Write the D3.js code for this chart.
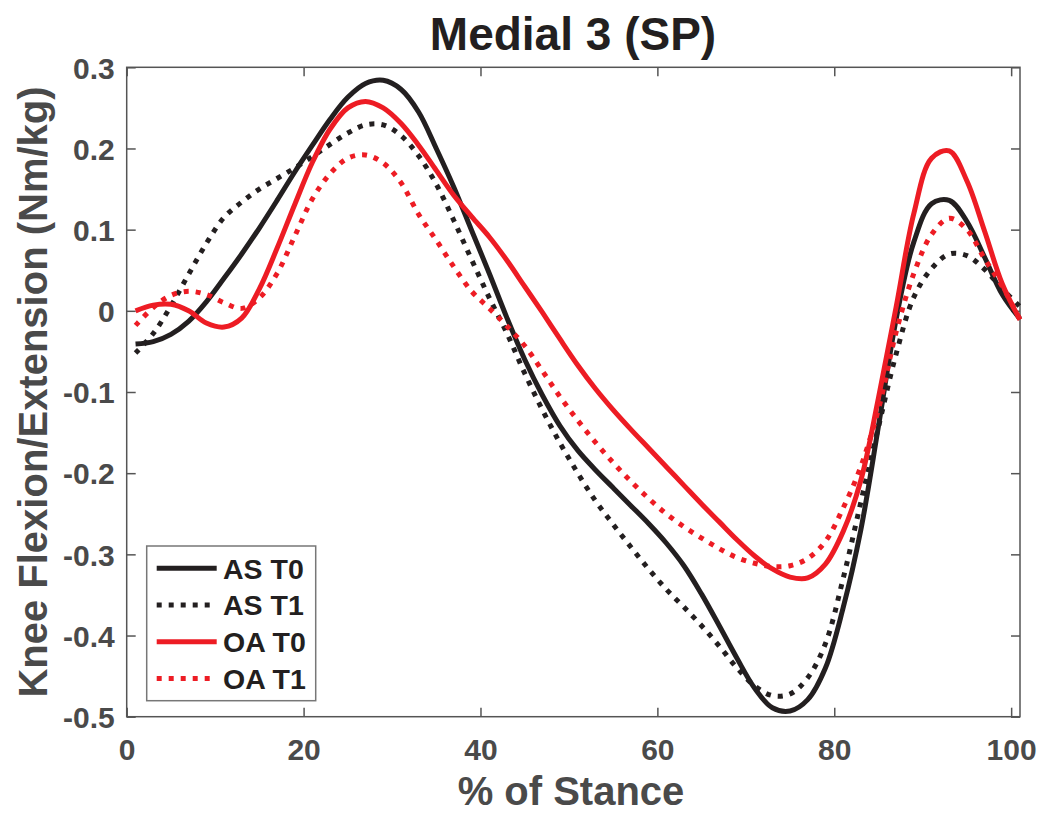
<!DOCTYPE html>
<html>
<head>
<meta charset="utf-8">
<script src="https://cdn.jsdelivr.net/npm/d3@7"></script>
<style>
html,body{margin:0;padding:0;background:#fff;}
svg{display:block;font-family:"Liberation Sans",Arial,Helvetica,sans-serif;font-weight:bold;}
</style>
</head>
<body>
<svg id="chart" width="1042" height="815"></svg>
<script>
// ---- data ----
const stance = d3.range(1, 102, 2); // % of stance sample points
const asT0 = [-0.041,-0.038,-0.029,-0.013,0.011,0.040,0.070,0.102,0.136,0.171,0.204,0.236,0.263,0.280,0.284,0.273,0.245,0.200,0.152,0.099,0.046,-0.009,-0.060,-0.104,-0.142,-0.172,-0.196,-0.218,-0.240,-0.262,-0.286,-0.314,-0.349,-0.388,-0.428,-0.465,-0.489,-0.493,-0.479,-0.440,-0.366,-0.270,-0.142,-0.010,0.085,0.132,0.136,0.110,0.066,0.020,-0.010];
const asT1 = [-0.052,-0.028,0.006,0.045,0.083,0.115,0.134,0.150,0.163,0.176,0.190,0.205,0.219,0.229,0.229,0.216,0.191,0.156,0.111,0.063,0.016,-0.028,-0.077,-0.122,-0.163,-0.200,-0.234,-0.263,-0.291,-0.318,-0.343,-0.365,-0.388,-0.413,-0.440,-0.462,-0.474,-0.472,-0.452,-0.410,-0.330,-0.236,-0.143,-0.053,0.017,0.052,0.070,0.068,0.051,0.027,0.005];
const oaT0 = [0.000,0.007,0.008,0.000,-0.015,-0.020,-0.009,0.027,0.077,0.131,0.183,0.224,0.250,0.258,0.250,0.231,0.204,0.173,0.142,0.116,0.091,0.062,0.030,-0.002,-0.035,-0.067,-0.096,-0.122,-0.146,-0.169,-0.192,-0.215,-0.238,-0.260,-0.282,-0.302,-0.318,-0.328,-0.329,-0.312,-0.272,-0.209,-0.107,0.005,0.120,0.188,0.197,0.160,0.098,0.033,-0.011];
const oaT1 = [-0.018,0.004,0.019,0.024,0.020,0.010,0.003,0.016,0.046,0.092,0.138,0.169,0.188,0.192,0.182,0.158,0.119,0.087,0.054,0.024,0.003,-0.019,-0.043,-0.074,-0.106,-0.135,-0.162,-0.187,-0.210,-0.231,-0.250,-0.266,-0.280,-0.293,-0.304,-0.311,-0.315,-0.314,-0.305,-0.284,-0.243,-0.192,-0.121,-0.026,0.046,0.094,0.114,0.100,0.064,0.030,-0.011];
const seriesNames = ["AS T0","AS T1","OA T0","OA T1"];
const xTicks = [0,20,40,60,80,100];
const yTicks = [0.3,0.2,0.1,0,-0.1,-0.2,-0.3,-0.4,-0.5];
const yTickLabels = ["0.3","0.2","0.1","0","-0.1","-0.2","-0.3","-0.4","-0.5"];

// ---- styling ----
const colors = {"AS T0":"#231f20","AS T1":"#231f20","OA T0":"#ed1c24","OA T1":"#ed1c24"};
const dashes = {"AS T0":null,"AS T1":"5,7","OA T0":null,"OA T1":"5,7"};
const series = [asT0, asT1, oaT0, oaT1].map((v,i)=>({name:seriesNames[i], values:v.map((y,j)=>({x:stance[j], y}))}));

const L = 126.7, R = 1020, T = 67.3, B = 716.7;
const svg = d3.select("#chart");
svg.append("rect").attr("width",1042).attr("height",815).attr("fill","#fff");

const x = d3.scaleLinear().domain([0,101]).range([L,R]);
const y = d3.scaleLinear().domain([-0.5,0.3]).range([B,T]);

const axisColor = "#555";
const labelColor = "#4a4a4a";
const tickLen = 9;

// box
svg.append("rect").attr("x",L).attr("y",T).attr("width",R-L).attr("height",B-T)
  .attr("fill","none").attr("stroke",axisColor).attr("stroke-width",1.5);

// axes via d3 axis
const xAxisB = svg.append("g").attr("transform",`translate(0,${B})`)
  .call(d3.axisBottom(x).tickValues(xTicks).tickSizeInner(-tickLen).tickSizeOuter(0).tickPadding(0).tickFormat(d3.format("d")));
const xAxisT = svg.append("g").attr("transform",`translate(0,${T})`)
  .call(d3.axisTop(x).tickValues(xTicks).tickSizeInner(-tickLen).tickSizeOuter(0).tickFormat(""));
const yAxisL = svg.append("g").attr("transform",`translate(${L},0)`)
  .call(d3.axisLeft(y).tickValues(yTicks).tickSizeInner(-tickLen).tickSizeOuter(0).tickFormat((d,i)=>yTickLabels[i]));
const yAxisR = svg.append("g").attr("transform",`translate(${R},0)`)
  .call(d3.axisRight(y).tickValues(yTicks).tickSizeInner(-tickLen).tickSizeOuter(0).tickFormat(""));

[xAxisB,xAxisT,yAxisL,yAxisR].forEach(g=>{
  g.select(".domain").remove();
  g.selectAll(".tick line").attr("stroke",axisColor).attr("stroke-width",1.5);
});
xAxisB.selectAll(".tick text").attr("y",0).attr("dy",0).attr("transform","translate(0,43)")
  .attr("fill",labelColor).style("font-size","30px").style("font-family","'Liberation Sans',Arial,sans-serif").style("font-weight","bold");
yAxisL.selectAll(".tick text").attr("x",-12).attr("dy","0.36em")
  .attr("fill",labelColor).style("font-size","30px").style("font-family","'Liberation Sans',Arial,sans-serif").style("font-weight","bold");

// lines
const line = d3.line().x(d=>x(d.x)).y(d=>y(d.y)).curve(d3.curveCatmullRom.alpha(0.5));
const plot = svg.append("g");
series.forEach(s=>{
  plot.append("path").datum(s.values)
    .attr("d",line).attr("fill","none")
    .attr("stroke",colors[s.name]).attr("stroke-width",5)
    .attr("stroke-dasharray",dashes[s.name])
    .attr("stroke-linejoin","round");
});

// title and axis labels
svg.append("text").attr("x",573).attr("y",50).attr("text-anchor","middle")
  .attr("fill","#231f20").style("font-size","46px").text("Medial 3 (SP)");
svg.append("text").attr("x",571).attr("y",805).attr("text-anchor","middle")
  .attr("fill",labelColor).style("font-size","40px").text("% of Stance");
svg.append("text").attr("transform",`translate(47,392) rotate(-90)`).attr("text-anchor","middle")
  .attr("fill",labelColor).style("font-size","40px").text("Knee Flexion/Extension (Nm/kg)");

// legend
const lg = svg.append("g");
lg.append("rect").attr("x",146.7).attr("y",546).attr("width",169).attr("height",154.7)
  .attr("fill","#fff").attr("stroke","#777").attr("stroke-width",1.5);
seriesNames.forEach((n,i)=>{
  const yy = 568.3 + i*36.7;
  lg.append("line").attr("x1",156.7).attr("x2",216.7).attr("y1",yy).attr("y2",yy)
    .attr("stroke",colors[n]).attr("stroke-width",5).attr("stroke-dasharray",dashes[n]);
  lg.append("text").attr("x",223).attr("y",yy).attr("dy","0.36em")
    .attr("fill","#231f20").style("font-size","28.5px").text(n);
});
</script>
</body>
</html>
